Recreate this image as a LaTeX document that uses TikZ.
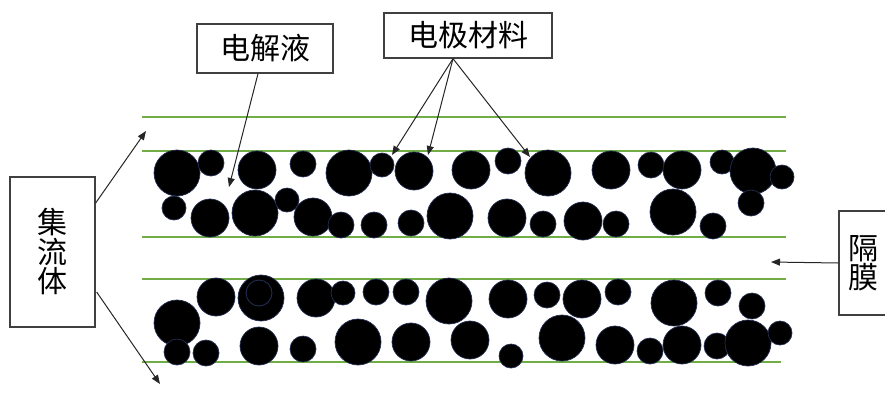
\documentclass[tikz,border=0pt]{standalone}
\usepackage{fontspec}
\newfontfamily\cjk{Noto Sans CJK SC}
\usetikzlibrary{arrows.meta}
\definecolor{lgreen}{RGB}{112,173,71}
\definecolor{edgec}{RGB}{35,45,80}
\definecolor{boxc}{RGB}{64,64,64}
\begin{document}
\begin{tikzpicture}[x=1pt,y=-1pt,
  gline/.style={draw=lgreen,line width=2pt},
  lbl/.style={draw=boxc,line width=1.3pt,inner sep=0pt,align=center,font=\cjk\fontsize{30pt}{29.5pt}\selectfont},
  arr/.style={draw=black!85,line width=1pt,-{Triangle[length=9pt,width=7pt]}},
  ball/.style={fill=black,draw=edgec,line width=0.7pt}]
\useasboundingbox (0,0) rectangle (885,394);
% green boundary lines
\draw[gline] (142,117) -- (786,117);
\draw[gline] (142,150.5) -- (786,150.5);
\draw[gline] (142,236.5) -- (786,236.5);
\draw[gline] (142,278.5) -- (786,278.5);
\draw[gline] (142,362) -- (781,362);
% particles, upper electrode
\foreach \x/\y/\r in {177/173/23,211/163/13,257/170/19,303/164/13,349/173/23,382/165/12,414/171/19,471/170/19,508/161/13,548/173/23,611/170/19,651/165/13,682/170/19,722/162/12,753/171/23,782/177/12,
174/208/12,210/218/19,255/213/23,287/200/12,313/217/19,341/225/13,374/225/13,411/223/13,450/216/23,507/218/19,543/224/13,583/221/19,616/224/13,673/212/23,713/226/13,751/203/13}
  \path[ball] (\x,\y) circle[radius=\r];
% particles, lower electrode
\foreach \x/\y/\r in {216/297/19,261/298/23,316/298/19,343/293/12,376/292/13,406/292/13,449/301/23,508/299/19,547/295/13,582/299/19,618/292/13,674/303/23,718/293/13,752/306/13,
177/323/23,177/352/13,206/353/13,259/346/19,303/349/13,358/342/23,411/342/19,470/340/19,511/356/12,562/338/23,615/345/19,650/351/13,682/345/19,717/346/13,748/343/23,780/333/12}
  \path[ball] (\x,\y) circle[radius=\r];
\draw[edgec,line width=0.9pt] (259,293) circle[radius=13];
% labels
\node[lbl,minimum width=136pt,minimum height=49pt] (ele) at (265,48.5) {电解液};
\node[lbl,minimum width=168pt,minimum height=45pt] (mat) at (468,35.5) {电极材料};
\node[lbl,minimum width=85pt,minimum height=150pt] (cur) at (52.5,252) {集\\流\\体};
\node[lbl,minimum width=48pt,minimum height=104pt] (sep) at (863,263) {隔\\膜};
% arrow targets
\coordinate (tEle) at (229,187);
\coordinate (tM1) at (392,155);
\coordinate (tM2) at (428,155);
\coordinate (tM3) at (530,157);
\coordinate (tC1) at (146,131);
\coordinate (tC2) at (160,384);
\coordinate (tS) at (771,262);
% connectors
\draw[arr] ([xshift=-7pt]ele.south) -- (tEle);
\draw[arr] ([xshift=-15pt]mat.south) -- (tM1);
\draw[arr] ([xshift=-15pt]mat.south) -- (tM2);
\draw[arr] ([xshift=-15pt]mat.south) -- (tM3);
\draw[arr] ([yshift=49pt]cur.east) -- (tC1);
\draw[arr] ([xshift=1pt,yshift=-40pt]cur.east) -- (tC2);
\draw[arr] (sep.west) -- (tS);
\end{tikzpicture}
\end{document}
